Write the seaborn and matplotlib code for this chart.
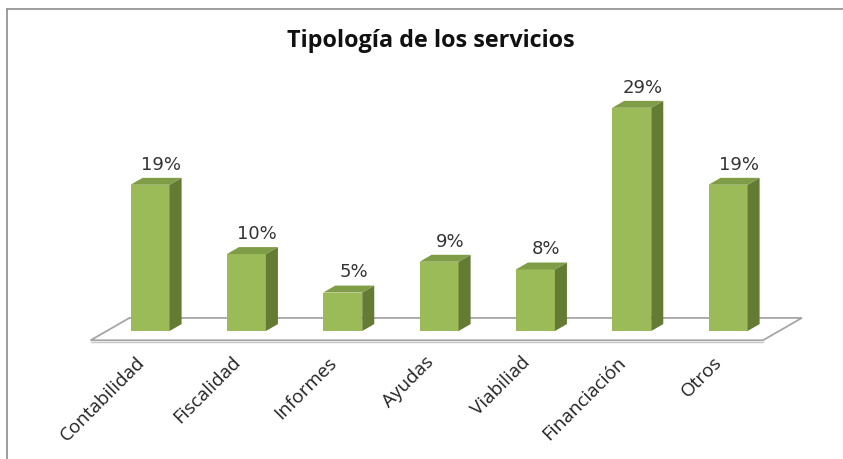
import numpy as np
import pandas as pd
import seaborn as sns
import matplotlib.pyplot as plt
from matplotlib.patches import Polygon
from matplotlib.lines import Line2D

# Data
categorias = ["Contabilidad", "Fiscalidad", "Informes", "Ayudas", "Viabiliad", "Financiación", "Otros"]
porcentajes = [19, 10, 5, 9, 8, 29, 19]
etiquetas = ["19%", "10%", "5%", "9%", "8%", "29%", "19%"]

sns.set_theme(style="white")
plt.rcParams['font.family'] = ['Open Sans', 'DejaVu Sans']

W, H = 843, 459
fig = plt.figure(figsize=(W / 100, H / 100), dpi=100)
ax = fig.add_axes([0.098, 0.2453, 0.8685, 0.5534])

front = "#9bbb59"
side = "#647b33"
top = "#7f9c46"
edge = "#a6a6a6"

df = pd.DataFrame({"cat": categorias, "val": porcentajes})
sns.barplot(data=df, x="cat", y="val", color=front, saturation=1, width=0.405,
            ax=ax, zorder=3, linewidth=0)

# depth of the 3D effect in data units
dx, dy = 0.125, 0.9
n = len(categorias)

# floor
k = dx / dy
f0, f1 = -1.2, 1.7
xl, xr = -0.45, n - 0.47
floor = Polygon([(xl + f0 * k, f0), (xr + f0 * k, f0), (xr + f1 * k, f1), (xl + f1 * k, f1)],
                closed=True, facecolor="white", edgecolor=edge, linewidth=1.3, zorder=1)
ax.add_patch(floor)
ax.plot([xl + f0 * k, xr + f0 * k], [f0 - 0.25, f0 - 0.25], color="#c8c8c8", lw=1.0, zorder=1)

for p, lab in zip(ax.patches[:n], etiquetas):
    x0, w, h = p.get_x(), p.get_width(), p.get_height()
    ax.add_patch(Polygon([(x0 + w, 0), (x0 + w + dx, dy), (x0 + w + dx, h + dy), (x0 + w, h)],
                         closed=True, facecolor=side, edgecolor="none", zorder=3))
    ax.add_patch(Polygon([(x0, h), (x0 + w, h), (x0 + w + dx, h + dy), (x0 + dx, h + dy)],
                         closed=True, facecolor=top, edgecolor="none", zorder=3))
    ax.annotate(lab, (x0 + w / 2 + dx * 0.9, h + dy), xytext=(0, 3), textcoords="offset points",
                ha="center", va="bottom", fontsize=13, fontfamily="DejaVu Sans", color="#333333",
                annotation_clip=False)

# category labels, rotated like the original
ax.set_xticks(range(n))
ax.set_xticklabels([])
for i, cat in enumerate(categorias):
    ax.annotate(cat, (i, f0), xytext=(-6, -14), textcoords="offset points",
                rotation=45, ha="right", va="center", rotation_mode="anchor",
                fontsize=13.6, color="#222222", annotation_clip=False)

ax.set_xlim(-0.7, n - 0.1)
ax.set_ylim(-2, 31)
ax.set_xlabel("")
ax.set_ylabel("")
ax.set_yticks([])
ax.tick_params(axis="x", length=0)
for s in ax.spines.values():
    s.set_visible(False)
ax.patch.set_alpha(0)

fig.text(431 / W, 1 - 41 / H, "Tipología de los servicios", ha="center", va="center",
         fontsize=16.8, fontweight="bold", color="#111111")

# outer chart frame (top and left)
fig.add_artist(Line2D([7 / W, 1], [1 - 9 / H, 1 - 9 / H], color="#8c8c8c", lw=1.2))
fig.add_artist(Line2D([7 / W, 7 / W], [0, 1 - 9 / H], color="#8c8c8c", lw=1.2))

fig.savefig("out.png", dpi=100, facecolor="white")
